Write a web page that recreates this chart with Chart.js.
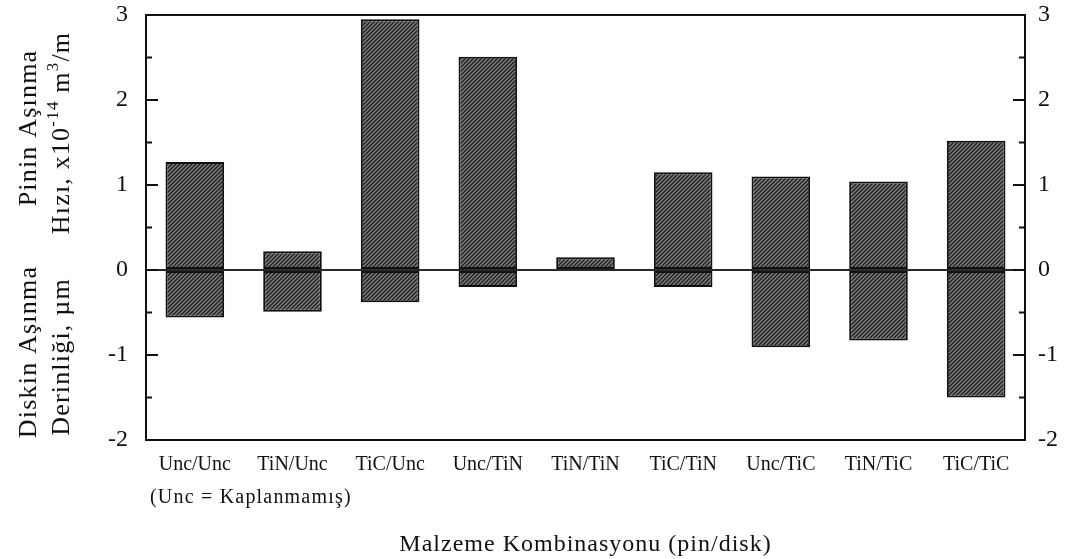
<!DOCTYPE html>
<html>
<head>
<meta charset="utf-8">
<script src="https://cdn.jsdelivr.net/npm/chart.js@4"></script>
<style>
  html, body { margin: 0; padding: 0; background: #fff; }
  #wrap { width: 1077px; height: 559px; }
</style>
</head>
<body>
<div id="wrap"><canvas id="wearChart"></canvas></div>
<script>
// Pin wear rate (up) and disk wear depth (down) per pin/disk coating pair
const combos = ['Unc/Unc', 'TiN/Unc', 'TiC/Unc', 'Unc/TiN', 'TiN/TiN', 'TiC/TiN', 'Unc/TiC', 'TiN/TiC', 'TiC/TiC'];
const pinWear = [1.27, 0.22, 2.95, 2.51, 0.15, 1.15, 1.10, 1.04, 1.52];
const diskDepth = [-0.56, -0.49, -0.38, -0.20, -0.01, -0.20, -0.91, -0.83, -1.50];
const yTicks = [-2, -1, 0, 1, 2, 3];

const SERIF = '"Liberation Serif", "DejaVu Serif", serif';
const INK = '#111';

// diagonal hatch fill used by every bar
function hatch() {
    const c = document.createElement('canvas');
    c.width = 4;
    c.height = 4;
    const g = c.getContext('2d');
    g.fillStyle = '#909090';
    g.fillRect(0, 0, 4, 4);
    g.strokeStyle = '#262626';
    g.lineWidth = 1.7;
    g.beginPath();
    g.moveTo(-1, 5); g.lineTo(5, -1);
    g.moveTo(-1, 1); g.lineTo(1, -1);
    g.moveTo(3, 5); g.lineTo(5, 3);
    g.stroke();
    return g.createPattern(c, 'repeat');
}

// draws text centred on (cx, cy), with raised smaller runs for exponents
function drawRunsCentered(ctx, runs, cx, cy) {
    const big = '26px ' + SERIF;
    const small = '17px ' + SERIF;
    ctx.letterSpacing = '1.2px';
    let total = 0;
    runs.forEach((r) => {
        ctx.font = r.sup ? small : big;
        r.w = ctx.measureText(r.t).width;
        total += r.w;
    });
    let x = cx - total / 2;
    runs.forEach((r) => {
        ctx.font = r.sup ? small : big;
        ctx.fillText(r.t, x, r.sup ? cy - 11 : cy);
        x += r.w;
    });
    ctx.letterSpacing = '0px';
}

const framePlugin = {
    id: 'frame',
    afterDraw(chart) {
        const { ctx, chartArea: a, scales } = chart;
        const y = scales.y;
        ctx.save();
        ctx.strokeStyle = INK;
        ctx.lineWidth = 2;
        ctx.strokeRect(a.left, a.top, a.right - a.left, a.bottom - a.top);

        // inward ticks on both vertical axes, minor ticks at halves
        ctx.beginPath();
        for (let v = -2; v <= 3; v += 0.5) {
            const py = y.getPixelForValue(v);
            const len = Number.isInteger(v) ? 12 : 6;
            ctx.moveTo(a.left, py); ctx.lineTo(a.left + len, py);
            ctx.moveTo(a.right, py); ctx.lineTo(a.right - len, py);
        }
        ctx.stroke();

        ctx.fillStyle = INK;
        ctx.textBaseline = 'alphabetic';
        ctx.textAlign = 'left';

        // left axis titles, two stacked blocks
        ctx.save();
        ctx.rotate(-Math.PI / 2);
        drawRunsCentered(ctx, [{ t: 'Pinin Aşınma' }], -128, 36);
        drawRunsCentered(ctx, [
            { t: 'Hızı, x10' }, { t: '-14', sup: true }, { t: ' m' }, { t: '3', sup: true }, { t: '/m' }
        ], -133, 69);
        drawRunsCentered(ctx, [{ t: 'Diskin Aşınma' }], -352, 36);
        drawRunsCentered(ctx, [{ t: 'Derinliği, µm' }], -357, 69);
        ctx.restore();

        // footnote under the first category and the x axis title
        ctx.font = '20px ' + SERIF;
        ctx.letterSpacing = '1.2px';
        ctx.fillText('(Unc = Kaplanmamış)', a.left + 4, 503);
        ctx.font = '24px ' + SERIF;
        ctx.letterSpacing = '1px';
        ctx.textAlign = 'center';
        ctx.fillText('Malzeme Kombinasyonu (pin/disk)', (a.left + a.right) / 2, 551);
        ctx.letterSpacing = '0px';
        ctx.restore();
    }
};

// keeps the plot frame at fixed offsets from the canvas edge
function fixVertical(width) {
    return function (scale) {
        scale.width = width;
        scale.paddingTop = 15;
        scale.paddingBottom = 0;
    };
}

const fill = hatch();

new Chart(document.getElementById('wearChart'), {
    type: 'bar',
    data: {
        labels: combos,
        datasets: [
            { label: 'Pin', data: pinWear, yAxisID: 'y' },
            { label: 'Disk', data: diskDepth, yAxisID: 'y' }
        ].map((ds) => Object.assign(ds, {
            backgroundColor: fill,
            borderColor: INK,
            borderWidth: 2,
            borderSkipped: false,
            barPercentage: 0.6,
            categoryPercentage: 1
        }))
    },
    options: {
        responsive: true,
        maintainAspectRatio: false,
        animation: false,
        layout: { padding: 0 },
        plugins: {
            legend: { display: false },
            tooltip: { enabled: false }
        },
        scales: {
            x: {
                stacked: true,
                grid: { display: false, drawTicks: false },
                border: { display: false },
                ticks: {
                    color: INK,
                    padding: 13,
                    maxRotation: 0,
                    font: { family: SERIF, size: 20 }
                },
                afterFit(scale) { scale.height = 119; }
            },
            y: {
                stacked: true,
                position: 'left',
                min: -2,
                max: 3,
                afterBuildTicks(scale) { scale.ticks = yTicks.map((v) => ({ value: v })); },
                grid: {
                    drawTicks: false,
                    lineWidth: 2,
                    color: (c) => (c.tick && c.tick.value === 0 ? '#2a2a2a' : 'transparent')
                },
                border: { display: false },
                ticks: {
                    color: INK,
                    padding: 18,
                    font: { family: SERIF, size: 24 }
                },
                afterFit: fixVertical(146)
            },
            y2: {
                position: 'right',
                min: -2,
                max: 3,
                afterBuildTicks(scale) { scale.ticks = yTicks.map((v) => ({ value: v })); },
                grid: { display: false, drawTicks: false },
                border: { display: false },
                ticks: {
                    color: INK,
                    padding: 13,
                    font: { family: SERIF, size: 24 }
                },
                afterFit: fixVertical(52)
            }
        }
    },
    plugins: [framePlugin]
});
</script>
</body>
</html>
